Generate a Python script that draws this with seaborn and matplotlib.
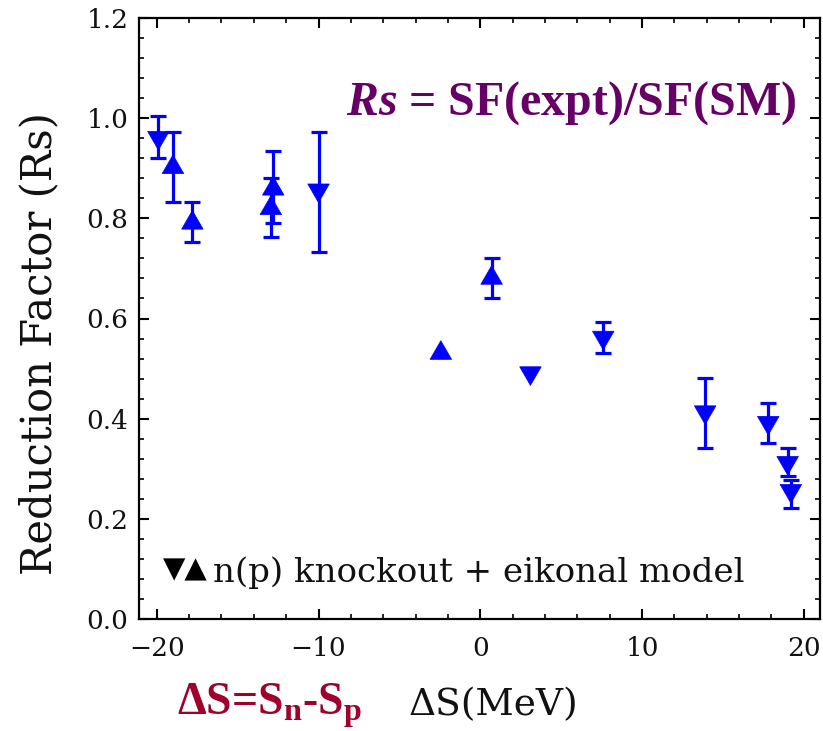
import numpy as np
import pandas as pd
import matplotlib
matplotlib.use("Agg")
import matplotlib.pyplot as plt
from matplotlib.path import Path
from matplotlib.ticker import MultipleLocator
import seaborn as sns

# ---------------- data ----------------
# downward triangles
down_x = [-19.9, -10.0, 3.1, 7.6, 13.9, 17.8, 19.0, 19.2]
down_y = [0.955, 0.850, 0.485, 0.556, 0.407, 0.386, 0.306, 0.250]
down_hi = [1.004, 0.973, np.nan, 0.593, 0.481, 0.431, 0.341, 0.278]
down_lo = [0.920, 0.733, np.nan, 0.531, 0.341, 0.351, 0.285, 0.221]
# upward triangles
up_x = [-19.0, -17.8, -12.8, -12.95, -2.44, 0.7]
up_y = [0.908, 0.797, 0.865, 0.826, 0.537, 0.687]
up_hi = [0.973, 0.832, 0.934, 0.881, np.nan, 0.721]
up_lo = [0.832, 0.752, 0.790, 0.762, np.nan, 0.641]

x_ticks = [-20, -10, 0, 10, 20]
y_ticks = [0.0, 0.2, 0.4, 0.6, 0.8, 1.0, 1.2]

df = pd.DataFrame({
    "x": down_x + up_x,
    "y": down_y + up_y,
    "hi": down_hi + up_hi,
    "lo": down_lo + up_lo,
    "shape": ["down"] * len(down_x) + ["up"] * len(up_x),
})

# ---------------- style ----------------
sns.set_theme(style="ticks")
plt.rcParams["font.family"] = ["DejaVu Serif", "DejaVu Sans"]
plt.rcParams["mathtext.fontset"] = "custom"
plt.rcParams["mathtext.rm"] = "Liberation Serif:bold"
plt.rcParams["mathtext.bf"] = "Liberation Serif:bold"
plt.rcParams["mathtext.it"] = "Liberation Serif:italic:bold"
plt.rcParams["mathtext.bfit"] = "Liberation Serif:italic:bold"

BLUE = "#0000ff"
PURPLE = "#660066"
RED = "#a0002a"

h = np.sqrt(3) / 2
up_marker = Path([(0, h), (-1, -h), (1, -h), (0, h)],
                 [Path.MOVETO, Path.LINETO, Path.LINETO, Path.CLOSEPOLY])
down_marker = Path([(0, -h), (-1, h), (1, h), (0, -h)],
                   [Path.MOVETO, Path.LINETO, Path.LINETO, Path.CLOSEPOLY])

fig = plt.figure(figsize=(8.23, 7.31), dpi=100)
ax = fig.add_axes([139 / 823, 112 / 731, 681 / 823, 601 / 731])

# error bars
err = df.dropna(subset=["hi"])
ax.errorbar(err["x"], err["y"],
            yerr=[err["y"] - err["lo"], err["hi"] - err["y"]],
            fmt="none", ecolor=BLUE, elinewidth=2.3, capsize=6,
            capthick=2.3, zorder=2)

sns.scatterplot(data=df, x="x", y="y", style="shape",
                markers={"down": down_marker, "up": up_marker},
                s=240, color=BLUE, edgecolor=BLUE, linewidth=0.5,
                legend=False, ax=ax, zorder=3)

ax.set_xlim(-21.1, 21.0)
ax.set_ylim(0, 1.2)
ax.set_xticks(x_ticks)
ax.set_yticks(y_ticks)
ax.set_yticklabels([f"{v:.1f}" for v in y_ticks])
ax.xaxis.set_minor_locator(MultipleLocator(2))
ax.yaxis.set_minor_locator(MultipleLocator(0.04))

for s in ax.spines.values():
    s.set_visible(True)
    s.set_color("black")
    s.set_linewidth(1.6)

ax.tick_params(which="both", direction="in", top=True, right=True,
               color="black")
ax.tick_params(which="major", length=7, width=1.5, labelsize=19,
               labelcolor="#111111")
ax.tick_params(which="minor", length=3.6, width=1.2)
ax.tick_params(axis="x", which="major", pad=12)
ax.tick_params(axis="y", which="major", pad=7.5)

ax.set_xlabel("ΔS(MeV)", fontsize=27, color="#111111")
ax.set_ylabel("Reduction Factor (Rs)", fontsize=30, color="#111111")
ax.xaxis.set_label_coords(0.521, -0.113)
ax.yaxis.set_label_coords(-0.116, 0.458)

# title formula
ax.text(0.634, 0.859, r"$\mathbfit{Rs}$ = SF(expt)/SF(SM)",
        transform=ax.transAxes, ha="center", va="center",
        fontsize=34.5, color=PURPLE, family="Liberation Serif",
        fontweight="bold")

# legend-like annotation
ax.text(0.068, 0.083, "▼▲", transform=ax.transAxes, ha="center",
        va="center", fontsize=21, color="black", family="DejaVu Sans")
ax.text(0.109, 0.0765, "n(p) knockout + eikonal model",
        transform=ax.transAxes, ha="left", va="center",
        fontsize=24.5, color="#111111")

# red definition under the axis
fig.text(177 / 823, (731 - 715) / 731, r"ΔS=S$_{\mathbf{n}}$-S$_{\mathbf{p}}$",
         ha="left", va="baseline", fontsize=33, color=RED,
         family="Liberation Serif", fontweight="bold")

fig.savefig("out.png", dpi=100)
